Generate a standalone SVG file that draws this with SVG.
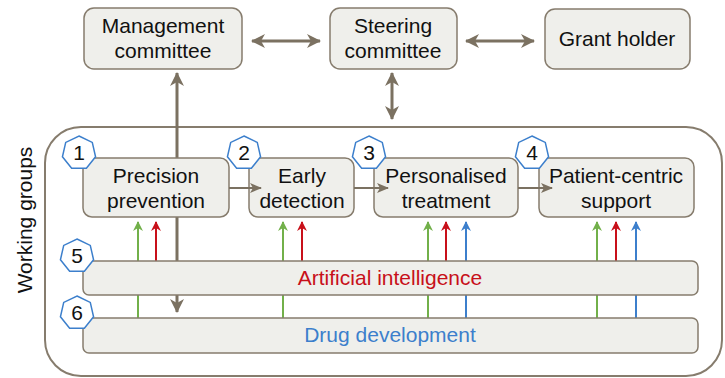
<svg xmlns="http://www.w3.org/2000/svg" width="725" height="378" viewBox="0 0 725 378">
  <style>
    .box { fill: #efefeb; stroke: #867c6d; stroke-width: 1.5; }
    .lbl { font-family: "Liberation Sans", Arial, sans-serif; font-size: 21px; fill: #111; text-anchor: middle; }
    .badge { fill: #ffffff; stroke: #3c7fcc; stroke-width: 1.5; }
    .num { font-family: "Liberation Sans", Arial, sans-serif; font-size: 21px; fill: #111; text-anchor: middle; }
    .grey { stroke: #7b7161; stroke-width: 3; fill: none; }
    .flow { stroke: #7b7161; stroke-width: 2; fill: none; }
    .g { stroke: #72b04a; stroke-width: 2; fill: none; }
    .r { stroke: #c8101a; stroke-width: 2; fill: none; }
    .b { stroke: #3c7fcc; stroke-width: 2; fill: none; }
  </style>
  <defs>
    <marker id="ah" markerUnits="userSpaceOnUse" viewBox="0 0 14 14" refX="13" refY="7" markerWidth="14" markerHeight="14" orient="auto-start-reverse">
      <path d="M0,0 L14,7 L0,14 L4,7 z" fill="#7b7161"/>
    </marker>
    <marker id="ahs" markerUnits="userSpaceOnUse" viewBox="0 0 12 10" refX="11" refY="5" markerWidth="12" markerHeight="10" orient="auto">
      <path d="M0,0 L12,5 L0,10 L3,5 z" fill="#7b7161"/>
    </marker>
    <marker id="ahg" markerUnits="userSpaceOnUse" viewBox="0 0 10 10" refX="9" refY="5" markerWidth="10" markerHeight="10" orient="auto">
      <path d="M0,0 L10,5 L0,10 L3,5 z" fill="#72b04a"/>
    </marker>
    <marker id="ahr" markerUnits="userSpaceOnUse" viewBox="0 0 10 10" refX="9" refY="5" markerWidth="10" markerHeight="10" orient="auto">
      <path d="M0,0 L10,5 L0,10 L3,5 z" fill="#c8101a"/>
    </marker>
    <marker id="ahb" markerUnits="userSpaceOnUse" viewBox="0 0 10 10" refX="9" refY="5" markerWidth="10" markerHeight="10" orient="auto">
      <path d="M0,0 L10,5 L0,10 L3,5 z" fill="#3c7fcc"/>
    </marker>
    <!-- heptagon, vertex up, circumradius 17 -->
    <polygon id="hept" points="0,-17 13.29,-10.6 16.57,3.78 7.38,15.32 -7.38,15.32 -16.57,3.78 -13.29,-10.6"/>
  </defs>

  <!-- working-groups container -->
  <g id="working-groups">
    <rect x="45" y="127" width="677" height="249" rx="36" fill="#ffffff" stroke="#867c6d" stroke-width="2"/>
    <text class="lbl" transform="translate(32,220) rotate(-90)">Working groups</text>
  </g>

  <!-- connectors drawn beneath the boxes -->
  <g id="connectors-under">
    <line class="grey" x1="177" y1="73" x2="177" y2="312" marker-start="url(#ah)" marker-end="url(#ah)"/>
    <line class="g" x1="138" y1="318" x2="138" y2="222" marker-end="url(#ahg)"/>
    <line class="r" x1="156" y1="261" x2="156" y2="222" marker-end="url(#ahr)"/>
    <line class="g" x1="283" y1="318" x2="283" y2="222" marker-end="url(#ahg)"/>
    <line class="r" x1="302" y1="261" x2="302" y2="222" marker-end="url(#ahr)"/>
    <line class="g" x1="428" y1="318" x2="428" y2="222" marker-end="url(#ahg)"/>
    <line class="r" x1="446" y1="261" x2="446" y2="222" marker-end="url(#ahr)"/>
    <line class="b" x1="466" y1="318" x2="466" y2="222" marker-end="url(#ahb)"/>
    <line class="g" x1="597" y1="318" x2="597" y2="222" marker-end="url(#ahg)"/>
    <line class="r" x1="616" y1="261" x2="616" y2="222" marker-end="url(#ahr)"/>
    <line class="b" x1="636" y1="318" x2="636" y2="222" marker-end="url(#ahb)"/>
  </g>

  <g id="management">
    <rect class="box" x="84" y="8" width="158" height="61" rx="10"/>
    <text class="lbl" x="163" y="33">Management</text>
    <text class="lbl" x="163" y="58">committee</text>
  </g>
  <g id="steering">
    <rect class="box" x="330" y="8" width="127" height="61" rx="10"/>
    <text class="lbl" x="393" y="33">Steering</text>
    <text class="lbl" x="393" y="58">committee</text>
  </g>
  <g id="grant-holder">
    <rect class="box" x="545" y="9" width="145" height="60" rx="10"/>
    <text class="lbl" x="617" y="46">Grant holder</text>
  </g>

  <g id="wg1">
    <rect class="box" x="83" y="158" width="146" height="59" rx="9"/>
    <text class="lbl" x="156" y="183">Precision</text>
    <text class="lbl" x="156" y="208">prevention</text>
    <use href="#hept" class="badge" x="79" y="153"/>
    <text class="num" x="79" y="160">1</text>
  </g>
  <g id="wg2">
    <rect class="box" x="249" y="158" width="105" height="59" rx="9"/>
    <text class="lbl" x="302" y="183">Early</text>
    <text class="lbl" x="302" y="208">detection</text>
    <use href="#hept" class="badge" x="244" y="153"/>
    <text class="num" x="244" y="160">2</text>
  </g>
  <g id="wg3">
    <rect class="box" x="374" y="158" width="144" height="59" rx="9"/>
    <text class="lbl" x="446" y="183">Personalised</text>
    <text class="lbl" x="446" y="208">treatment</text>
    <use href="#hept" class="badge" x="369" y="153"/>
    <text class="num" x="369" y="160">3</text>
  </g>
  <g id="wg4">
    <rect class="box" x="539" y="158" width="155" height="59" rx="9"/>
    <text class="lbl" x="616" y="183">Patient-centric</text>
    <text class="lbl" x="616" y="208">support</text>
    <use href="#hept" class="badge" x="532" y="153"/>
    <text class="num" x="532" y="160">4</text>
  </g>
  <g id="wg5">
    <rect class="box" x="83" y="261" width="615" height="34" rx="6"/>
    <text class="lbl" x="390" y="285" style="fill:#c8101a">Artificial intelligence</text>
    <use href="#hept" class="badge" x="77" y="256"/>
    <text class="num" x="77" y="263">5</text>
  </g>
  <g id="wg6">
    <rect class="box" x="83" y="318" width="615" height="35" rx="6"/>
    <text class="lbl" x="390" y="342" style="fill:#3c7fcc">Drug development</text>
    <use href="#hept" class="badge" x="77" y="313"/>
    <text class="num" x="77" y="320">6</text>
  </g>

  <!-- connectors drawn above the boxes -->
  <g id="connectors">
    <line class="grey" x1="252" y1="41" x2="320" y2="41" marker-start="url(#ah)" marker-end="url(#ah)"/>
    <line class="grey" x1="466" y1="41" x2="534" y2="41" marker-start="url(#ah)" marker-end="url(#ah)"/>
    <line class="grey" x1="392" y1="73" x2="392" y2="119" marker-start="url(#ah)" marker-end="url(#ah)"/>
    <line class="flow" x1="229" y1="188" x2="261" y2="188" marker-end="url(#ahs)"/>
    <line class="flow" x1="354" y1="188" x2="388" y2="188" marker-end="url(#ahs)"/>
    <line class="flow" x1="518" y1="188" x2="552" y2="188" marker-end="url(#ahs)"/>
  </g>
</svg>
